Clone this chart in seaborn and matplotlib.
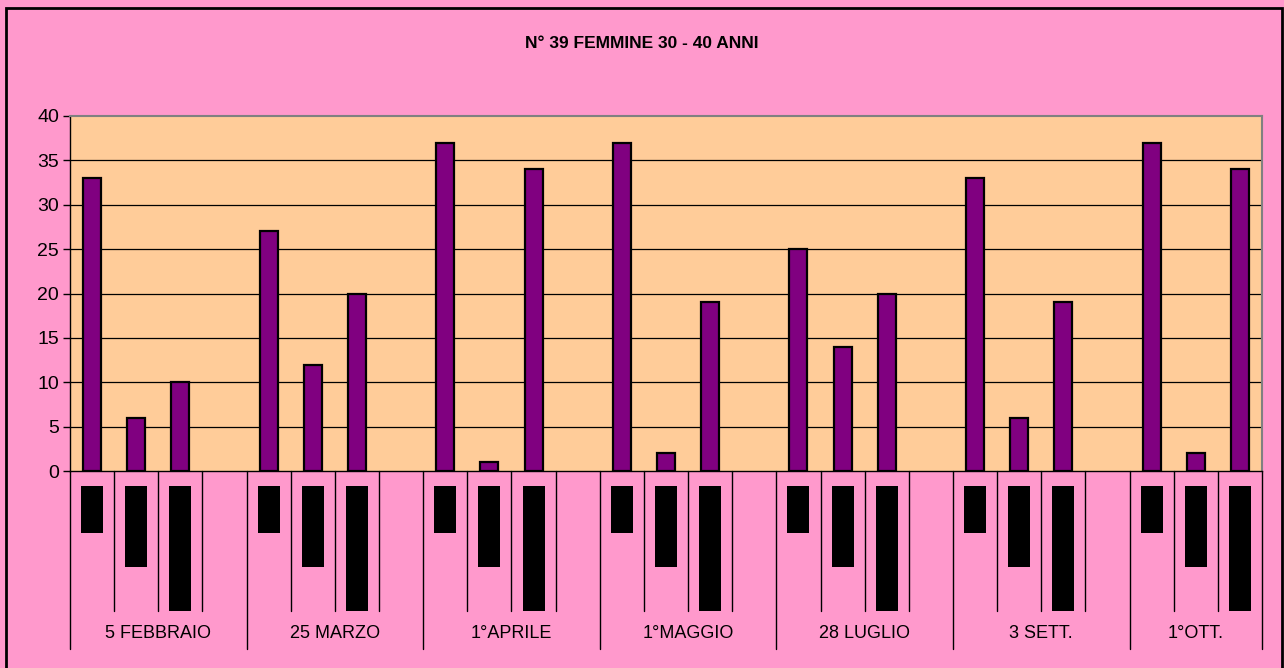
import matplotlib.pyplot as plt
import matplotlib.transforms as mtransforms
from matplotlib.patches import Rectangle
import numpy as np
import pandas as pd
import seaborn as sns

# --- data -------------------------------------------------------------
groups = ["5 FEBBRAIO", "25 MARZO", "1°APRILE", "1°MAGGIO",
          "28 LUGLIO", "3 SETT.", "1°OTT."]
slots_per_group = [4, 4, 4, 4, 4, 4, 3]
values = [
    [33, 6, 10, None],
    [27, 12, 20, None],
    [37, 1, 34, None],
    [37, 2, 19, None],
    [25, 14, 20, None],
    [33, 6, 19, None],
    [37, 2, 34],
]
y_ticks = [0, 5, 10, 15, 20, 25, 30, 35, 40]
title = "N° 39 FEMMINE 30 - 40 ANNI"

# --- table for seaborn ---------------------------------------------------
rows = []
for g, (name, vals) in enumerate(zip(groups, values)):
    for s, v in enumerate(vals):
        rows.append({"slot": f"{g}_{s}", "sub": s, "value": np.nan if v is None else v})
df = pd.DataFrame(rows)
order = list(df["slot"])

PINK = "#FF99CC"
PEACH = "#FFCC99"
PURPLE = "#800080"
W, H = 1284, 668

sns.set_style("white")
plt.rcParams["font.family"] = ["Liberation Sans", "DejaVu Sans"]
plt.rcParams["text.color"] = "black"
plt.rcParams["ytick.color"] = "black"
plt.rcParams["ytick.labelcolor"] = "black"

fig = plt.figure(figsize=(W / 100, H / 100), dpi=100, facecolor=PINK)
ax = fig.add_axes([70 / W, 1 - 471 / H, (1262 - 70) / W, (471 - 116) / H])
ax.set_facecolor(PEACH)

sns.barplot(data=df, x="slot", y="value", order=order, color=PURPLE,
            saturation=1, edgecolor="black", linewidth=1.6, width=0.41, ax=ax)

ax.set_xlim(-0.5, len(order) - 0.5)
ax.set_ylim(0, 40)
ax.set_yticks(y_ticks)
ax.tick_params(axis="y", labelsize=14, length=5, width=1, color="black",
               labelcolor="black", direction="out", pad=3, left=True)
ax.set_xticks([])
ax.set_xlabel("")
ax.set_ylabel("")
for y in y_ticks[1:-1]:
    ax.axhline(y, color="black", linewidth=0.9, zorder=0)
ax.set_axisbelow(True)

for side in ["top", "right"]:
    ax.spines[side].set_color("#808080")
    ax.spines[side].set_linewidth(1.5)
for side in ["left", "bottom"]:
    ax.spines[side].set_color("black")
    ax.spines[side].set_linewidth(1)

# --- multi-level category axis below the plot ---------------------------
trans = mtransforms.blended_transform_factory(ax.transData, fig.transFigure)
y_axis = 1 - 471 / H
y_short = 1 - 611 / H
y_long = 1 - 649 / H
box_top = 1 - 486 / H
box_bottoms = [1 - 533 / H, 1 - 567 / H, 1 - 611 / H]

group_edges = np.cumsum([0] + slots_per_group)
for k in range(len(order) + 1):
    x = k - 0.5
    bottom = y_long if k in group_edges else y_short
    ax.plot([x, x], [y_axis, bottom], color="black", linewidth=1,
            transform=trans, clip_on=False)

for i, sub in enumerate(df["sub"]):
    if sub > 2:
        continue
    ax.add_patch(Rectangle((i - 0.25, box_bottoms[sub]), 0.5,
                           box_top - box_bottoms[sub], facecolor="black",
                           edgecolor="none", transform=trans, clip_on=False))

for name, start, n in zip(groups, group_edges[:-1], slots_per_group):
    ax.text(start + (n - 1) / 2, 1 - 634 / H, name, ha="center", va="center",
            fontsize=13, color="black", transform=trans)

ax.set_xlim(-0.5, len(order) - 0.5)

# --- title and outer frame ------------------------------------------------
fig.text(0.5, 1 - 43 / H, title, ha="center", va="center", fontsize=12.5,
         fontweight="bold", color="black",
         family=["Liberation Sans Narrow", "Liberation Sans"])
fig.patches.append(Rectangle((6 / W, -0.01), (1282 - 6) / W, 1 - 8 / H + 0.01,
                             transform=fig.transFigure, fill=False,
                             edgecolor="black", linewidth=2))

fig.savefig("out.png", dpi=100, facecolor=PINK)
